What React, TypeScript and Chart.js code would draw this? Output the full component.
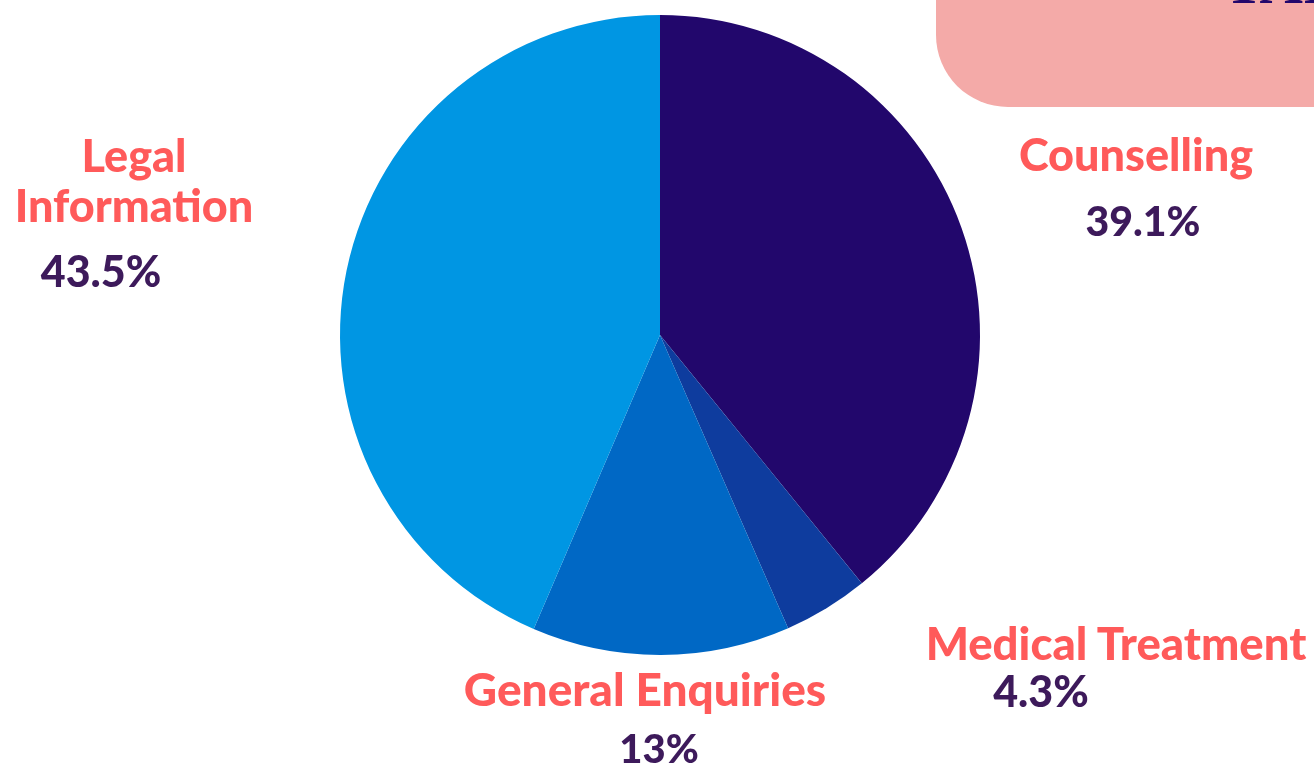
import React, { useEffect, useRef } from "react";
import { Chart, registerables } from "chart.js";

Chart.register(...registerables);

const categories = ["Counselling", "Medical Treatment", "General Enquiries", "Legal Information"];
const shares = [39.1, 4.3, 13, 43.5];
const valueLabels = ["39.1%", "4.3%", "13%", "43.5%"];

const sliceColors = ["#22076C", "#0E3C9E", "#0068C5", "#0096E3"];
const labelColor = "#FF5A5A";
const valueColor = "#3D1A5B";
const FONT = "Lato, 'Open Sans', sans-serif";

// label placement (center x, baselines, font sizes) -- layout only
const labelLayout = [
  { x: 1136, lines: ["Counselling"], base: [172], fs: 45, vx: 1143, vbase: 236, vfs: 41 },
  { x: 1116, lines: ["Medical Treatment"], base: [660], fs: 45.5, vx: 1041, vbase: 707, vfs: 43 },
  { x: 645, lines: ["General Enquiries"], base: [707], fs: 46, vx: 659, vbase: 763, vfs: 40 },
  { x: 134, lines: ["Legal", "Information"], base: [173, 223], fs: 45, vx: 101, vbase: 287, vfs: 43 },
];

function TextAt(props: { x: number; baseline: number; fs: number; color: string; text: string }) {
  const { x, baseline, fs, color, text } = props;
  return (
    <div
      style={{
        position: "absolute",
        left: x - 300,
        width: 600,
        top: baseline - 0.887 * fs,
        height: fs,
        lineHeight: `${fs}px`,
        fontSize: fs,
        fontFamily: FONT,
        fontWeight: 900,
        color,
        textAlign: "center",
        whiteSpace: "nowrap",
      }}
    >
      {text}
    </div>
  );
}

export default function App() {
  const ref = useRef<HTMLCanvasElement | null>(null);
  useEffect(() => {
    if (!ref.current) return;
    const chart = new Chart(ref.current, {
      type: "pie",
      data: {
        labels: categories,
        datasets: [
          {
            data: shares,
            backgroundColor: sliceColors,
            borderWidth: 0,
          },
        ],
      },
      options: {
        animation: false,
        responsive: false,
        maintainAspectRatio: false,
        layout: { padding: { left: 340, right: 334, top: 15, bottom: 115 } },
        plugins: {
          legend: { display: false },
          tooltip: { enabled: false },
          title: { display: false },
        },
      },
    });
    return () => chart.destroy();
  }, []);

  return (
    <div
      style={{
        position: "fixed",
        left: 0,
        top: 0,
        width: 1314,
        height: 770,
        background: "#FFFFFF",
        overflow: "hidden",
      }}
    >
      <div
        style={{
          position: "absolute",
          left: 936,
          top: -20,
          width: 420,
          height: 127,
          background: "#F4AAA8",
          borderBottomLeftRadius: 72,
        }}
      />
      <div
        style={{
          position: "absolute",
          left: 1224,
          top: -47,
          fontFamily: "'Liberation Serif', 'DejaVu Serif', serif",
          fontWeight: 700,
          fontSize: 60,
          lineHeight: "60px",
          color: "#22076C",
          whiteSpace: "nowrap",
        }}
      >
        TAIL
      </div>
      <canvas ref={ref} width={1314} height={770} style={{ position: "absolute", left: 0, top: 0 }} />
      {labelLayout.map((l, i) => (
        <React.Fragment key={i}>
          {l.lines.map((t, j) => (
            <TextAt key={j} x={l.x} baseline={l.base[j]} fs={l.fs} color={labelColor} text={t} />
          ))}
          <TextAt x={l.vx} baseline={l.vbase} fs={l.vfs} color={valueColor} text={valueLabels[i]} />
        </React.Fragment>
      ))}
    </div>
  );
}
